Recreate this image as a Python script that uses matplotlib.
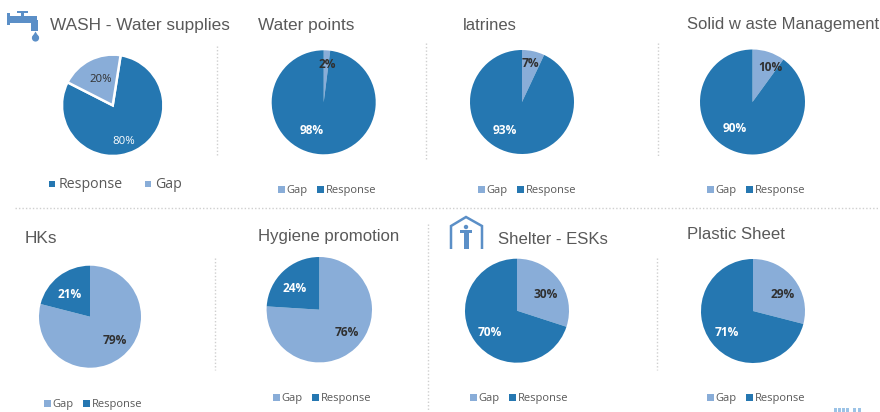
import matplotlib
matplotlib.use("Agg")
import matplotlib.pyplot as plt
from matplotlib.patches import Rectangle, Polygon, Circle

W, H = 880, 412
RESP = "#2577B1"
GAP = "#89ADD8"
TITLE_C = "#595959"
LEG_C = "#595959"

titles = ["WASH - Water supplies", "Water points", "latrines", "Solid w aste Management",
          "HKs", "Hygiene promotion", "Shelter - ESKs", "Plastic Sheet"]
gap_values = [20, 2, 7, 10, 79, 76, 30, 29]
response_values = [80, 98, 93, 90, 21, 24, 70, 71]

title_pos = [(50, 25), (258, 25), (463, 25), (687, 24), (25, 238), (258, 236), (498, 239), (687, 234)]
title_size = [12.4, 12.4, 12.0, 12.0, 12.4, 12.05, 12.05, 12.05]
centers = [(112.7, 105.3), (323.7, 102.3), (522, 102), (752.5, 102), (90, 316.7), (319.3, 309.7), (517, 310.7), (753, 311)]
radii = [50.7, 52, 52, 52.5, 51, 52.7, 52, 52]
gap_label_pos = [(100.7, 79), (327, 64), (530, 63), (770, 67), (115, 341), (347, 333), (546, 294), (783, 294)]
resp_label_pos = [(124, 141), (312, 131), (505, 130), (735, 129), (69.5, 294), (295, 288), (490, 332), (727, 332)]
legend_x = [278, 478, 707, 44, 273, 470, 707]
legend_y = [190, 190, 190, 404, 398, 398, 398]

fig = plt.figure(figsize=(W / 100, H / 100), dpi=100, facecolor="white")
ov = fig.add_axes([0, 0, 1, 1], zorder=5)
ov.set_xlim(0, W)
ov.set_ylim(H, 0)
ov.axis("off")
ov.patch.set_alpha(0)

for i in range(8):
    cx, cy = centers[i]
    r = radii[i]
    ax = fig.add_axes([(cx - r) / W, 1 - (cy + r) / H, 2 * r / W, 2 * r / H])
    if i == 0:
        ax.pie([response_values[i], gap_values[i]], colors=[RESP, GAP], startangle=81, counterclock=False,
               radius=1, wedgeprops=dict(edgecolor="white", linewidth=1.8))
    else:
        ax.pie([gap_values[i], response_values[i]], colors=[GAP, RESP], startangle=90, counterclock=False, radius=1)
    ax.set_xlim(-1, 1)
    ax.set_ylim(-1, 1)
    ov.text(*title_pos[i], titles[i], family="Liberation Sans", fontsize=title_size[i], color=TITLE_C, va="center", ha="left")
    style = dict(family="Open Sans", fontsize=8.6 if i else 8.2, fontweight="bold" if i else "normal",
                 ha="center", va="center")
    ov.text(*gap_label_pos[i], f"{gap_values[i]}%", color="#303030", **style)
    ov.text(*resp_label_pos[i], f"{response_values[i]}%", color="white", **style)

# legends
ov.add_patch(Rectangle((49, 181), 6, 6, color=RESP, lw=0))
ov.text(59, 184, "Response", family="Open Sans", fontsize=10.2, color=LEG_C, va="center")
ov.add_patch(Rectangle((145, 181), 6, 6, color=GAP, lw=0))
ov.text(155, 184, "Gap", family="Open Sans", fontsize=10.2, color=LEG_C, va="center")
for x, y in zip(legend_x, legend_y):
    ov.add_patch(Rectangle((x, y - 4), 7, 7, color=GAP, lw=0))
    ov.text(x + 8, y, "Gap", family="Open Sans", fontsize=8.0, color=LEG_C, va="center")
    ov.add_patch(Rectangle((x + 39, y - 4), 7, 7, color=RESP, lw=0))
    ov.text(x + 48, y, "Response", family="Open Sans", fontsize=8.0, color=LEG_C, va="center")

# separators
dots = dict(color="#CFCFCF", lw=1.0, ls=(0, (1, 1.5)))
ov.plot([15, 880], [207.5, 207.5], **dots)
for x, y0, y1 in [(217, 46, 155), (426, 43, 160), (658, 43, 156),
                  (215, 258, 370), (428, 224, 412), (657, 258, 370)]:
    ov.plot([x, x], [y0, y1], **dots)

# tap icon
ICON = "#5B8FC7"
ov.add_patch(Rectangle((7, 16), 30, 7, color=ICON, lw=0))
ov.add_patch(Rectangle((31, 20), 7, 11, color=ICON, lw=0))
ov.add_patch(Rectangle((21, 11), 3, 6, color=ICON, lw=0))
ov.add_patch(Rectangle((17, 11), 11, 2, color=ICON, lw=0))
ov.add_patch(Rectangle((7, 13), 3, 12, color=ICON, lw=0))
ov.add_patch(Circle((35.5, 38), 3.6, color=ICON, lw=0))
ov.add_patch(Polygon([(35.5, 31.5), (32.2, 37), (38.8, 37)], color=ICON, lw=0))

# shelter icon
ov.add_patch(Polygon([(451, 249), (451, 226), (466, 217), (482, 226), (482, 249)], closed=False,
                     fill=False, edgecolor=ICON, lw=1.8))
ov.add_patch(Circle((466, 227), 2.2, color=ICON, lw=0))
ov.add_patch(Rectangle((460, 230), 12, 3, color=ICON, lw=0))
ov.add_patch(Rectangle((464, 230), 5, 19, color=ICON, lw=0))

# bottom-right logo fragment
LOGO = "#9CC3E6"
for x in (834, 838, 842, 846, 853, 858):
    ov.add_patch(Rectangle((x, 408), 2.5, 4, color=LOGO, lw=0))

fig.savefig("out.png", dpi=100, facecolor="white")
